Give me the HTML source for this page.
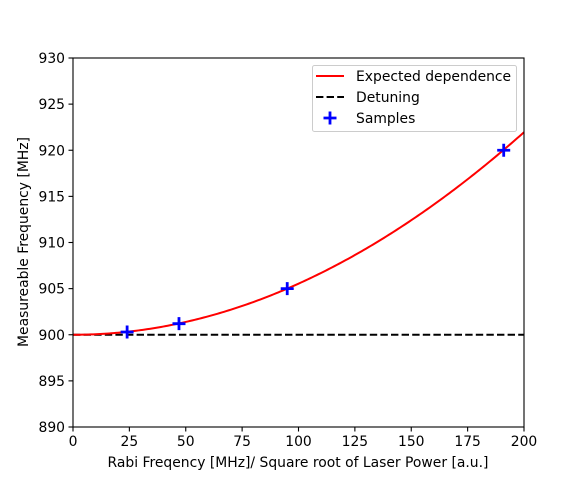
<!DOCTYPE html>
<html><head><meta charset="utf-8"><style>
body{margin:0;background:#fff}
svg text{font-family:"DejaVu Sans","Liberation Sans",sans-serif;font-size:13.9px;fill:#000}
</style></head><body>
<svg id="c" width="582" height="480" xmlns="http://www.w3.org/2000/svg"></svg>
<script>
const xTicks=[0,25,50,75,100,125,150,175,200];
const yTicks=[890,895,900,905,910,915,920,925,930];
const detuning=[900];
const sampleX=[24,47,95,191];
const sampleY=[900.3,901.2,905.0,920.0];
const L=73,R=524,T=58,B=427;
const xs=v=>L+(v-0)/200*(R-L);
const ys=v=>B-(v-890)/40*(B-T);
const svg=document.getElementById('c');
const NS='http://www.w3.org/2000/svg';
function mk(tag,attrs,parent){const e=document.createElementNS(NS,tag);for(const k in attrs)e.setAttribute(k,attrs[k]);(parent||svg).appendChild(e);return e;}
const defs=mk('defs',{});const cp=mk('clipPath',{id:'cl'},defs);mk('rect',{x:L,y:T,width:R-L,height:B-T},cp);
const det=mk('line',{x1:xs(0),x2:xs(200),y1:ys(detuning[0]),y2:ys(detuning[0]),stroke:'#000','stroke-width':2,'stroke-dasharray':'7.4,3.2','clip-path':'url(#cl)'});


let d='';for(let i=0;i<=200;i++){const r=i;const f=Math.sqrt(detuning[0]*detuning[0]+r*r);d+=(i?'L':'M')+xs(r).toFixed(2)+','+ys(f).toFixed(2);}
const cur=mk('path',{d:d,fill:'none',stroke:'#ff0000','stroke-width':2,'clip-path':'url(#cl)'});


sampleX.forEach((x,i)=>{const cx=xs(x),cy=ys(sampleY[i]);
const g=mk('path',{d:`M${cx-6.5},${cy}H${cx+6.5}M${cx},${cy-6.5}V${cy+6.5}`,stroke:'#0000ff','stroke-width':2.8,fill:'none'});

});
const fr=mk('rect',{x:L,y:T,width:R-L,height:B-T,fill:'none',stroke:'#000','stroke-width':1.1});


xTicks.forEach(v=>{const x=xs(v);mk('line',{x1:x,x2:x,y1:B,y2:B+4.5,stroke:'#000','stroke-width':1.1});
const t=mk('text',{x:x,y:B+19,'text-anchor':'middle'});t.textContent=v;

});
yTicks.forEach(v=>{const y=ys(v);mk('line',{x1:L,x2:L-4.5,y1:y,y2:y,stroke:'#000','stroke-width':1.1});
const t=mk('text',{x:L-8,y:y+5,'text-anchor':'end'});t.textContent=v;

});
</script>
<svg style="position:absolute;left:0;top:0" width="582" height="480" xmlns="http://www.w3.org/2000/svg">
<text x="298" y="467" text-anchor="middle">Rabi Freqency [MHz]/ Square root of Laser Power [a.u.]</text>
<text transform="translate(28,242) rotate(-90)" text-anchor="middle">Measureable Frequency [MHz]</text>
<g>
<rect x="312.5" y="65.5" width="204" height="66" rx="2" fill="#fff" fill-opacity="0.8" stroke="#ccc"/>
<line x1="316" x2="344" y1="76" y2="76" stroke="#ff0000" stroke-width="2"/>
<text x="356" y="81">Expected dependence</text>
<line x1="316" x2="344" y1="97" y2="97" stroke="#000" stroke-width="2" stroke-dasharray="7.4,3.2"/>
<text x="356" y="102">Detuning</text>
<path d="M323.5,118H336.5M330,111.5V124.5" stroke="#0000ff" stroke-width="2.8"/>
<text x="356" y="123">Samples</text>
</g>
</svg>
</body></html>
